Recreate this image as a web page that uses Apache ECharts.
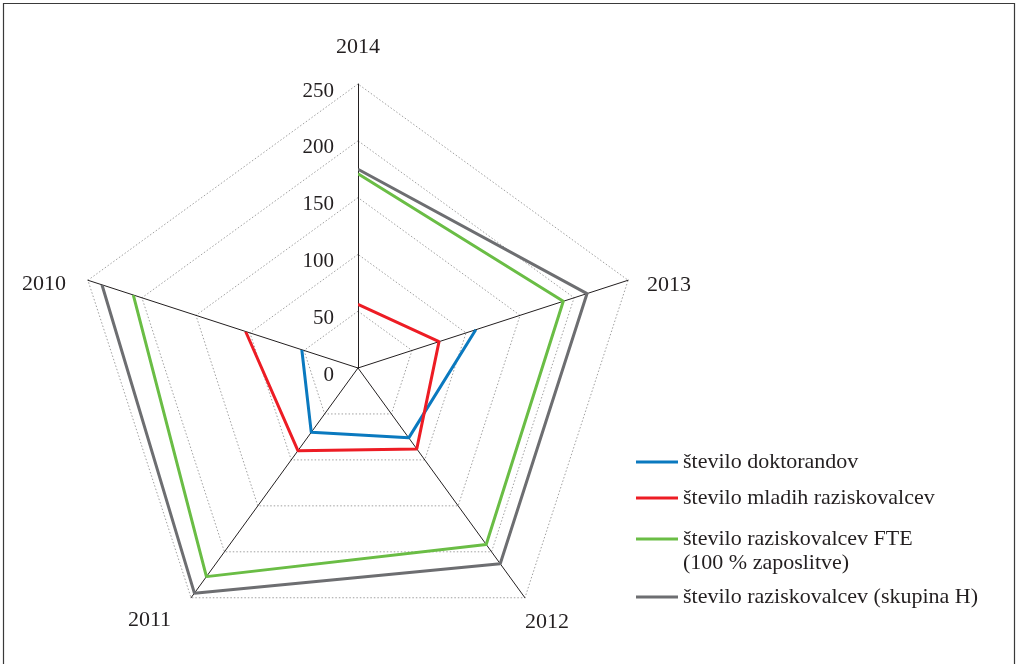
<!DOCTYPE html>
<html>
<head>
<meta charset="utf-8">
<script src="https://cdn.jsdelivr.net/npm/echarts@6/dist/echarts.min.js"></script>
<style>html,body{margin:0;padding:0;background:#fff}#c{width:1018px;height:664px}</style>
</head>
<body>
<div id="c"></div>
<script>
// Categories clockwise from the top
const categories = ['2014', '2013', '2012', '2011', '2010'];
const tickValues = [0, 50, 100, 150, 200, 250];
const seriesNames = [
  'število doktorandov',
  'število mladih raziskovalcev',
  'število raziskovalcev FTE (100 % zaposlitve)',
  'število raziskovalcev (skupina H)'
];
const legendLabels = [
  'število doktorandov',
  'število mladih raziskovalcev',
  '\nštevilo raziskovalcev FTE\n(100 % zaposlitve)',
  'število raziskovalcev (skupina H)'
];
// values in category order (2014, 2013, 2012, 2011, 2010); null = no value
const doktorandi = [null, 109, 76, 70, 52];
const mladiRaziskovalci = [56, 75, 88, 90, 104];
const raziskovalciFTE = [171, 190, 192, 227, 208];
const raziskovalciH = [175, 212, 213, 245, 237];
const seriesValues = [doktorandi, mladiRaziskovalci, raziskovalciFTE, raziskovalciH];

const colors = ['#0a79bf', '#ed1c24', '#6abd45', '#6d6e71'];
const FONT = 'Liberation Serif';
const TXT = '#231f20';
const CX = 358, CY = 368, R = 284;
const maxV = tickValues[tickValues.length - 1];
const step = tickValues[1] - tickValues[0];

// ECharts radar runs counter-clockwise: reorder so the categories appear clockwise
const radarOrder = [0].concat(categories.map((_, i) => i).slice(1).reverse());
const toRadar = arr => radarOrder.map(i => arr[i]);

const chart = echarts.init(document.getElementById('c'));

const nameRich = {
  t: {fontFamily: FONT, fontSize: 22, color: TXT, padding: [0, 0, 26, 0]},
  r: {fontFamily: FONT, fontSize: 22, color: TXT, padding: [9, 0, 0, 19]},
  br: {fontFamily: FONT, fontSize: 22, color: TXT, padding: [48, 0, 0, 0]},
  bl: {fontFamily: FONT, fontSize: 22, color: TXT, padding: [44, 20, 0, 0]},
  l: {fontFamily: FONT, fontSize: 22, color: TXT, padding: [8, 22, 0, 0]}
};
const nameKeys = ['t', 'r', 'br', 'bl', 'l'];

function legendFor(i, top) {
  return {
    data: [{name: seriesNames[i], icon: 'rect'}],
    formatter: () => legendLabels[i],
    left: 636, top: top, orient: 'vertical', padding: 0,
    itemWidth: 42, itemHeight: 3, selectedMode: false,
    textStyle: {fontFamily: FONT, fontSize: 22, color: TXT, lineHeight: 24}
  };
}

const option = {
  backgroundColor: '#fff',
  animation: false,
  graphic: [{
    type: 'rect', silent: true,
    shape: {x: 3.5, y: 3.5, width: 1011, height: 700},
    style: {fill: 'none', stroke: '#3a3a3a', lineWidth: 1.2}
  }],
  legend: [
    legendFor(0, 450),
    legendFor(1, 486),
    legendFor(2, 503),
    legendFor(3, 585)
  ],
  radar: {
    center: [CX, CY], radius: R, startAngle: 90, shape: 'polygon',
    splitNumber: tickValues.length - 1,
    indicator: toRadar(categories).map(c => ({name: c, min: 0, max: maxV})),
    nameGap: 0,
    axisName: {
      formatter: (n) => '{' + nameKeys[categories.indexOf(n)] + '|' + n + '}',
      rich: nameRich
    },
    axisLine: {lineStyle: {color: '#231f20', width: 1}},
    splitLine: {lineStyle: {color: '#a0a0a0', width: 1, type: [1.5, 2]}},
    splitArea: {show: false},
    axisTick: {show: false},
    axisLabel: {show: false}
  },
  polar: {center: [CX, CY], radius: R},
  angleAxis: {
    type: 'category', data: categories, boundaryGap: false,
    startAngle: 90, clockwise: true,
    axisLine: {show: false}, axisTick: {show: false}, axisLabel: {show: false},
    splitLine: {show: false}
  },
  radiusAxis: {
    type: 'value', min: 0, max: maxV, interval: step,
    axisLine: {show: false}, axisTick: {show: false}, splitLine: {show: false},
    axisLabel: {fontFamily: FONT, fontSize: 21, color: TXT, margin: 24, verticalAlign: 'top', lineHeight: 14}
  },
  series: seriesNames.map((name, i) => ({
    name: name, type: 'line', coordinateSystem: 'polar',
    data: seriesValues[i].map(v => v == null ? '-' : v),
    symbol: 'none', z: 2 + i,
    color: colors[i],
    lineStyle: {color: colors[i], width: 3}
  }))
};
chart.setOption(option);
</script>
</body>
</html>
